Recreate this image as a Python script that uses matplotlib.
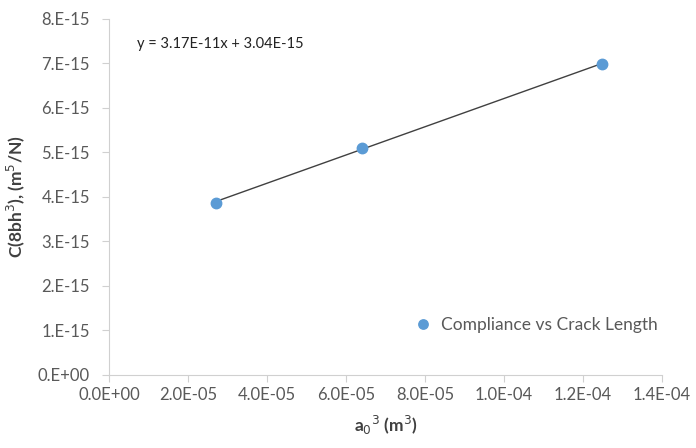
import matplotlib
matplotlib.use("Agg")
import matplotlib.pyplot as plt
import numpy as np

plt.rcParams['font.family'] = ['Lato', 'DejaVu Sans']

# data
a0_cubed = [2.70e-5, 6.40e-5, 1.248e-4]
compliance = [3.87e-15, 5.10e-15, 6.99e-15]
slope, intercept = 3.17e-11, 3.04e-15

x_ticks = [0, 2e-5, 4e-5, 6e-5, 8e-5, 1e-4, 1.2e-4, 1.4e-4]
x_labels = ["0.0E+00", "2.0E-05", "4.0E-05", "6.0E-05", "8.0E-05", "1.0E-04", "1.2E-04", "1.4E-04"]
y_ticks = [i * 1e-15 for i in range(9)]
y_labels = ["0.E+00", "1.E-15", "2.E-15", "3.E-15", "4.E-15", "5.E-15", "6.E-15", "7.E-15", "8.E-15"]

fig = plt.figure(figsize=(6.96, 4.48), dpi=100)
ax = fig.add_axes([0.157, 0.163, 0.794, 0.795])

xs = np.array([min(a0_cubed), max(a0_cubed)])
ax.plot(xs, slope * xs + intercept, color='#404040', lw=1.0, zorder=2)
ax.plot(a0_cubed, compliance, 'o', color='#5B9BD5', ms=7.5, zorder=3,
        label='Compliance vs Crack Length')

ax.set_xlim(0, 1.4e-4)
ax.set_ylim(0, 8e-15)
ax.set_xticks(x_ticks)
ax.set_xticklabels(x_labels)
ax.set_yticks(y_ticks)
ax.set_yticklabels(y_labels)

for s in ['top', 'right']:
    ax.spines[s].set_visible(False)
for s in ['left', 'bottom']:
    ax.spines[s].set_color('#D0D0D0')
ax.tick_params(colors='#D0D0D0', labelcolor='#595959', labelsize=12, length=5, width=0.8)
ax.tick_params(axis='y', pad=9)

ax.set_xlabel('a$_0$$^3$ (m$^3$)', fontsize=12.5, fontweight='bold', color='#404040', labelpad=8)
ax.set_ylabel('C(8bh$^3$), (m$^5$/N)', fontsize=12.5, fontweight='bold', color='#404040', labelpad=8)

ax.text(0.05, 0.93, 'y = 3.17E-11x + 3.04E-15', transform=ax.transAxes,
        fontsize=10.5, color='#222222', va='center', ha='left')

ax.legend(loc='lower right', bbox_to_anchor=(1.02, 0.075), frameon=False,
          fontsize=12.5, labelcolor='#595959', handletextpad=0.0, markerscale=0.9)

fig.savefig('out.png', dpi=100)
